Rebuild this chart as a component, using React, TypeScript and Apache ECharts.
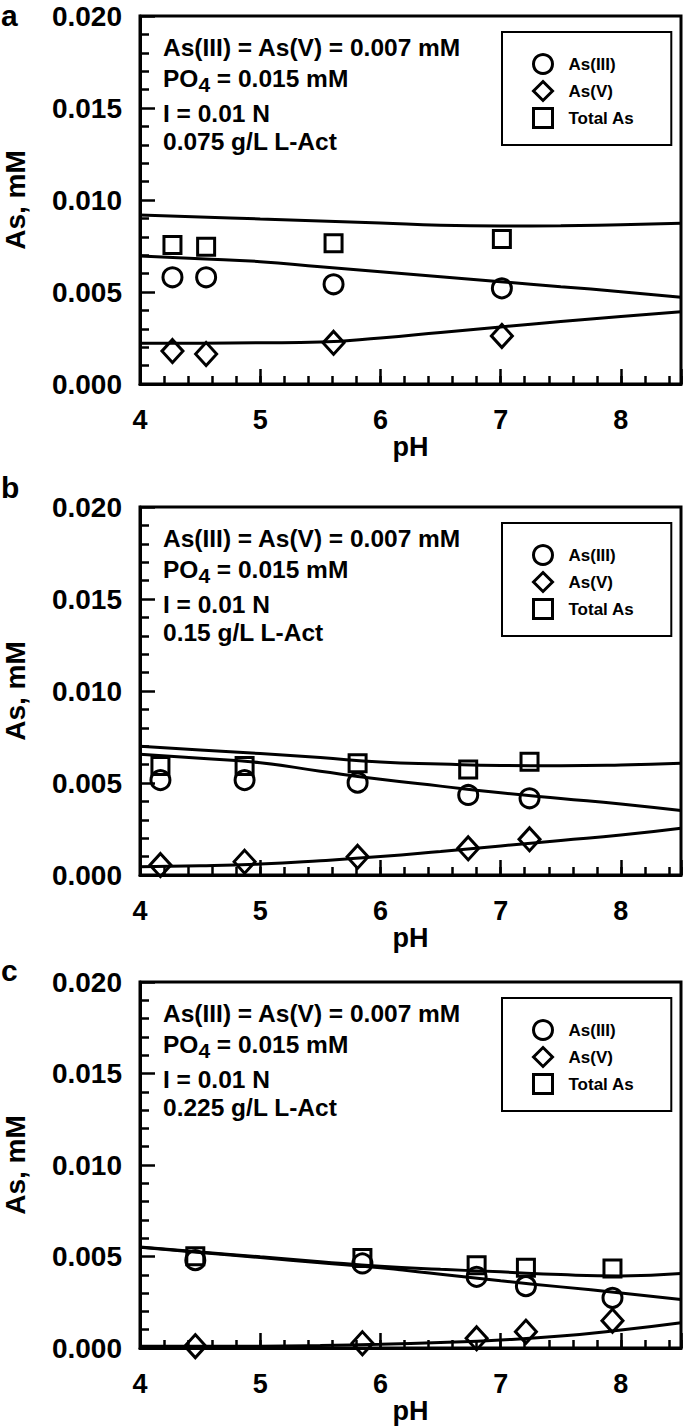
import React, { useEffect, useRef } from 'react';
import * as echarts from 'echarts';

// ---- data ----
const panelLetters = ['a', 'b', 'c'];
const doseLabels = ['0.075 g/L L-Act', '0.15 g/L L-Act', '0.225 g/L L-Act'];
const seriesNames = ['As(III)', 'As(V)', 'Total As'];
const xTickValues = [4, 5, 6, 7, 8];

// measured points
const pHA = [4.27, 4.55, 5.61, 7.01];
const as3A = [0.0058, 0.0058, 0.00542, 0.0052];
const as5A = [0.00179, 0.00163, 0.00224, 0.00261];
const totA = [0.00755, 0.00746, 0.00765, 0.00788];

const pHB = [4.17, 4.87, 5.81, 6.73, 7.24];
const as3B = [0.00516, 0.00516, 0.00502, 0.00435, 0.00417];
const as5B = [0.00054, 0.00072, 0.00099, 0.00145, 0.00194];
const totB = [0.00592, 0.00592, 0.00607, 0.00574, 0.00616];

const pHC = [4.46, 5.85, 6.8, 7.21, 7.93];
const as3C = [0.0048, 0.00462, 0.00389, 0.00338, 0.00274];
const as5C = [0.0001, 0.00026, 0.00053, 0.00089, 0.00149];
const totC = [0.00501, 0.00492, 0.00452, 0.00438, 0.00434];

// model curves
const curvePH = [4, 4.5, 5, 5.5, 6, 6.5, 7, 7.5, 8, 8.5];
const fitTotA = [0.00918, 0.00908, 0.00897, 0.00886, 0.00875, 0.00863, 0.00859, 0.0086, 0.00866, 0.00873];
const fitAs3A = [0.00696, 0.00681, 0.00665, 0.00637, 0.0061, 0.00583, 0.00556, 0.00529, 0.00502, 0.00471];
const fitAs5A = [0.00221, 0.00222, 0.00224, 0.00228, 0.0025, 0.0028, 0.0031, 0.0034, 0.00367, 0.00393];

const fitTotB = [0.007, 0.0068, 0.0066, 0.00638, 0.00614, 0.00603, 0.00595, 0.00594, 0.00598, 0.00607];
const fitAs3B = [0.00656, 0.00634, 0.0061, 0.00564, 0.0052, 0.00483, 0.00447, 0.00416, 0.00386, 0.0035];
const fitAs5B = [0.00045, 0.0005, 0.0006, 0.00078, 0.001, 0.00128, 0.00158, 0.00188, 0.00217, 0.00254];

const fitTotC = [0.00552, 0.00525, 0.00498, 0.00472, 0.00447, 0.0043, 0.00416, 0.00401, 0.00394, 0.00407];
const fitAs3C = [0.0055, 0.00522, 0.00494, 0.00466, 0.00438, 0.00403, 0.00367, 0.00334, 0.00301, 0.00265];
const fitAs5C = [0.0001, 0.0001, 0.0001, 0.00013, 0.0002, 0.0003, 0.00044, 0.00065, 0.00098, 0.00138];

const panels = [
  { pH: pHA, as3: as3A, as5: as5A, tot: totA, fits: [fitAs3A, fitAs5A, fitTotA] },
  { pH: pHB, as3: as3B, as5: as5B, tot: totB, fits: [fitAs3B, fitAs5B, fitTotB] },
  { pH: pHC, as3: as3C, as5: as5C, tot: totC, fits: [fitAs3C, fitAs5C, fitTotC] },
];

// ---- layout ----
const FONT = '"Liberation Sans", Arial, Helvetica, sans-serif';
const tops = [16, 507, 982];
const heights = [368, 368, 366];
const letterTops = [0, 472, 955];
const GL = 140;
const GW = 541;

export default function App() {
  const ref = useRef<HTMLDivElement>(null);

  useEffect(() => {
    if (!ref.current) return;
    const chart = echarts.init(ref.current, undefined, { renderer: 'svg' });

    const bold = (size: number) => ({ fontSize: size, fontWeight: 'bold' as const, color: '#000', fontFamily: FONT });

    const grid: any[] = [];
    const xAxis: any[] = [];
    const yAxis: any[] = [];
    const series: any[] = [];
    const legend: any[] = [];
    const graphic: any[] = [];

    panels.forEach((p, i) => {
      const top = tops[i];
      grid.push({
        left: GL, top, width: GW, height: heights[i],
        containLabel: false, outerBoundsMode: 'none',
        show: true, borderColor: '#000', borderWidth: 3, backgroundColor: 'transparent',
      });
      xAxis.push({
        type: 'value', gridIndex: i, min: 4, max: 8.5, interval: 1, position: 'bottom',
        axisLine: { show: true, onZero: false, lineStyle: { color: '#000', width: 3 } },
        axisTick: { show: true, inside: true, length: 15, lineStyle: { color: '#000', width: 2.5 } },
        axisLabel: {
          ...bold(27), margin: 22,
          formatter: (v: number) => (xTickValues.includes(v) ? String(v) : ''),
        },
        splitLine: { show: false },
        name: 'pH', nameLocation: 'middle', nameGap: 41, nameTextStyle: bold(27),
      });
      xAxis.push({
        type: 'value', gridIndex: i, min: 4, max: 8.5, interval: 0.2, position: 'bottom',
        axisLine: { show: false, onZero: false },
        axisTick: { show: true, inside: true, length: 8, lineStyle: { color: '#000', width: 2.5 } },
        axisLabel: { show: false },
        splitLine: { show: false },
      });
      yAxis.push({
        type: 'value', gridIndex: i, min: 0, max: 0.02, interval: 0.005,
        axisLine: { show: true, onZero: false, lineStyle: { color: '#000', width: 3 } },
        axisTick: { show: true, inside: true, length: 15, lineStyle: { color: '#000', width: 2.5 } },
        minorTick: { show: true, splitNumber: 5, length: 9, lineStyle: { color: '#000', width: 2.5 } },
        axisLabel: { ...bold(28), margin: 18, formatter: (v: number) => v.toFixed(3) },
        splitLine: { show: false },
        minorSplitLine: { show: false },
        name: 'As, mM', nameLocation: 'middle', nameRotate: 90, nameGap: 111, nameTextStyle: bold(28),
      });

      const symbols = ['circle', 'diamond', 'rect'];
      const sizes: any[] = [19, [21, 23], 17];
      const vals = [p.as3, p.as5, p.tot];

      p.fits.forEach((f, k) => {
        series.push({
          type: 'line', name: 'fit' + i + k, xAxisIndex: 2 * i, yAxisIndex: i,
          data: curvePH.map((x, j) => [x, f[j]]),
          smooth: true, symbol: 'none', showSymbol: false, silent: true,
          lineStyle: { color: '#000', width: 3 }, z: 2,
        });
      });
      vals.forEach((v, k) => {
        series.push({
          type: 'scatter', name: seriesNames[k], xAxisIndex: 2 * i, yAxisIndex: i,
          data: p.pH.map((x, j) => [x, v[j]]),
          symbol: symbols[k], symbolSize: sizes[k],
          itemStyle: { color: 'rgba(0,0,0,0)', borderColor: '#000', borderWidth: 3, opacity: 1 },
          z: 3,
        });
      });

      legend.push({
        left: 502, top: top + 16, orient: 'vertical', selectedMode: false,
        data: seriesNames.map((n, k) => ({ name: n, icon: symbols[k] })),
        itemWidth: 19, itemHeight: 19, itemGap: 5,
        padding: [21, 37, 16, 30],
        borderColor: '#000', borderWidth: 2, backgroundColor: '#fff',
        itemStyle: { color: 'rgba(0,0,0,0)', borderColor: '#000', borderWidth: 3 },
        textStyle: { ...bold(17), padding: [0, 0, 0, 11] },
      });

      graphic.push({
        type: 'text', left: 1, top: letterTops[i],
        style: { text: panelLetters[i], fill: '#000', font: `bold 30px ${FONT}` },
      });
      const tx = 163;
      graphic.push({
        type: 'text', x: tx, y: top + 31, style: {
          text: 'As(III) = As(V) = 0.007 mM', font: `bold 24.5px ${FONT}`, fill: '#000',
          verticalAlign: 'middle',
        },
      });
      graphic.push({
        type: 'text', x: tx, y: top + 62, style: {
          text: '{n|PO}{s|4}{n| = 0.015 mM}', fill: '#000', verticalAlign: 'middle',
          rich: {
            n: { fontSize: 24.5, fontWeight: 'bold', fontFamily: FONT, fill: '#000' },
            s: { fontSize: 21, fontWeight: 'bold', fontFamily: FONT, fill: '#000', padding: [12, 0, 0, 0] },
          },
        },
      });
      graphic.push({
        type: 'text', x: tx, y: top + 97, style: {
          text: 'I = 0.01 N', font: `bold 24.5px ${FONT}`, fill: '#000', verticalAlign: 'middle',
        },
      });
      graphic.push({
        type: 'text', x: tx, y: top + 125, style: {
          text: doseLabels[i], font: `bold 24.5px ${FONT}`, fill: '#000', verticalAlign: 'middle',
        },
      });
    });

    chart.setOption({
      animation: false,
      backgroundColor: '#fff',
      grid, xAxis, yAxis, series, legend, graphic,
    });

    return () => chart.dispose();
  }, []);

  return (
    <div
      ref={ref}
      style={{ position: 'absolute', left: 0, top: 0, width: 685, height: 1428 }}
    />
  );
}
